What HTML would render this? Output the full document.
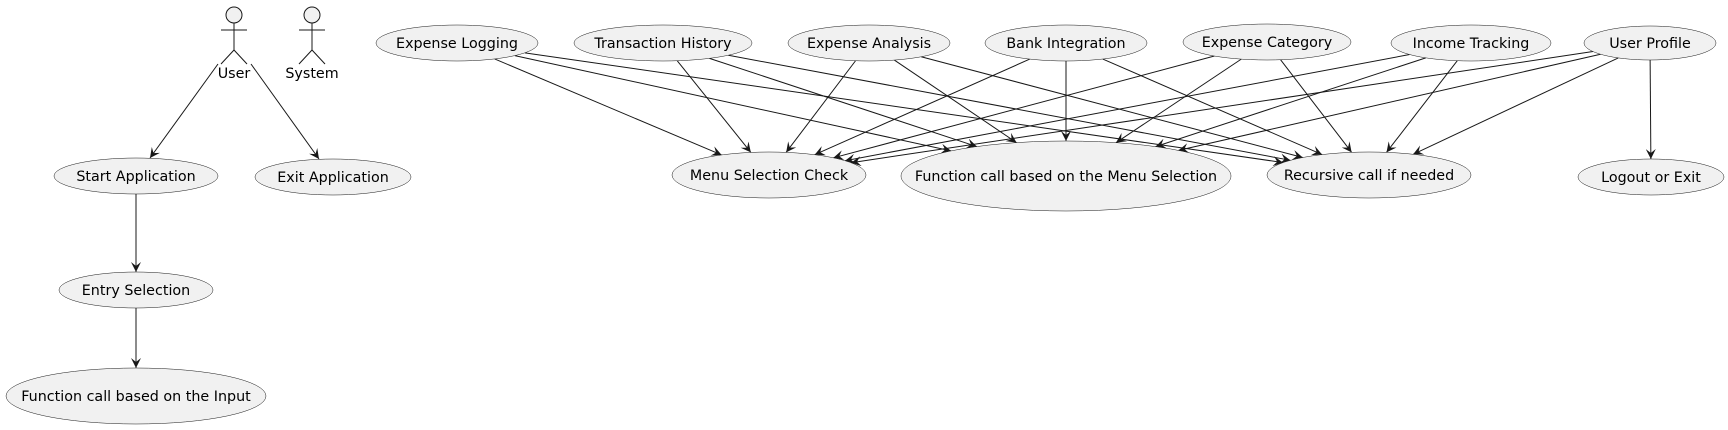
<!DOCTYPE html>
<html><head><meta charset="utf-8"><style>
body{margin:0;background:#fff}
svg{display:block}
text{font-family:"DejaVu Sans","Liberation Sans",sans-serif;font-size:14.3px;fill:#000}
</style></head><body>
<svg id="s" width="1728" height="430" viewBox="0 0 1728 430" xmlns="http://www.w3.org/2000/svg">
<defs><marker id="a" markerWidth="12" markerHeight="10" refX="10" refY="5" orient="auto" markerUnits="userSpaceOnUse"><path d="M0,0 L10,5 L0,10 L4,5 Z" fill="#181818"/></marker></defs>
<g id="edges" stroke="#181818" stroke-width="1" fill="none"></g>
<g id="nodes"></g>
<g stroke="#181818" fill="none" stroke-width="1">
<circle cx="234" cy="15" r="8" fill="#f1f1f1"/>
<line x1="234" y1="23" x2="234" y2="50"/><line x1="221" y1="30" x2="247" y2="30"/>
<line x1="234" y1="50" x2="221" y2="64"/><line x1="234" y1="50" x2="247" y2="64"/>
<circle cx="312" cy="15" r="8" fill="#f1f1f1"/>
<line x1="312" y1="23" x2="312" y2="50"/><line x1="299" y1="30" x2="325" y2="30"/>
<line x1="312" y1="50" x2="299" y2="64"/><line x1="312" y1="50" x2="325" y2="64"/>
</g>
<text x="234" y="78" text-anchor="middle">User</text>
<text x="312" y="78" text-anchor="middle">System</text>
</svg>
<script>
var N={
SA:[136,176,82,18,"Start Application"],
EA:[333,177,78,18,"Exit Application"],
ES:[136,290,77,18,"Entry Selection"],
FI:[136,396,130,28,"Function call based on the Input"],
EL:[457,43,81,18,"Expense Logging"],
TH:[663,43,89,18,"Transaction History"],
EN:[869,43,81,18,"Expense Analysis"],
BI:[1066,43,81,18,"Bank Integration"],
EC:[1267,42,84,18,"Expense Category"],
IT:[1471,43,80,18,"Income Tracking"],
UP:[1650,43,66,17,"User Profile"],
MS:[769,175,97,23,"Menu Selection Check"],
FM:[1066,176,165,35,"Function call based on the Menu Selection"],
RC:[1369,175,102,23,"Recursive call if needed"],
LO:[1651,177,73,18,"Logout or Exit"]};
var ns="http://www.w3.org/2000/svg",g=document.getElementById("nodes"),eg=document.getElementById("edges");
for(var k in N){var n=N[k];var e=document.createElementNS(ns,"ellipse");
e.setAttribute("cx",n[0]);e.setAttribute("cy",n[1]);e.setAttribute("rx",n[2]);e.setAttribute("ry",n[3]);
e.setAttribute("fill","#f1f1f1");e.setAttribute("stroke","#181818");e.setAttribute("stroke-width","0.5");g.appendChild(e);
var t=document.createElementNS(ns,"text");t.setAttribute("x",n[0]);t.setAttribute("y",n[1]+5);t.setAttribute("text-anchor","middle");t.textContent=n[4];g.appendChild(t);}
function bp(n,dx,dy){var s=1/Math.sqrt(dx*dx/(n[2]*n[2])+dy*dy/(n[3]*n[3]));return [n[0]+dx*s,n[1]+dy*s];}
function line(x1,y1,x2,y2){var l=document.createElementNS(ns,"line");l.setAttribute("x1",x1);l.setAttribute("y1",y1);l.setAttribute("x2",x2);l.setAttribute("y2",y2);l.setAttribute("marker-end","url(#a)");eg.appendChild(l);}
function edge(a,b){var A=N[a],B=N[b];var dx=B[0]-A[0],dy=B[1]-A[1];
var p=bp(A,dx,dy),q=bp(B,-dx,-dy);line(p[0],p[1],q[0],q[1]);}
edge("SA","ES");edge("ES","FI");
line(218,64,150,158);line(251,64,319,159);
["EL","TH","EN","BI","EC","IT","UP"].forEach(function(t){edge(t,"MS");edge(t,"FM");edge(t,"RC");});
edge("UP","LO");
</script>
</body></html>
